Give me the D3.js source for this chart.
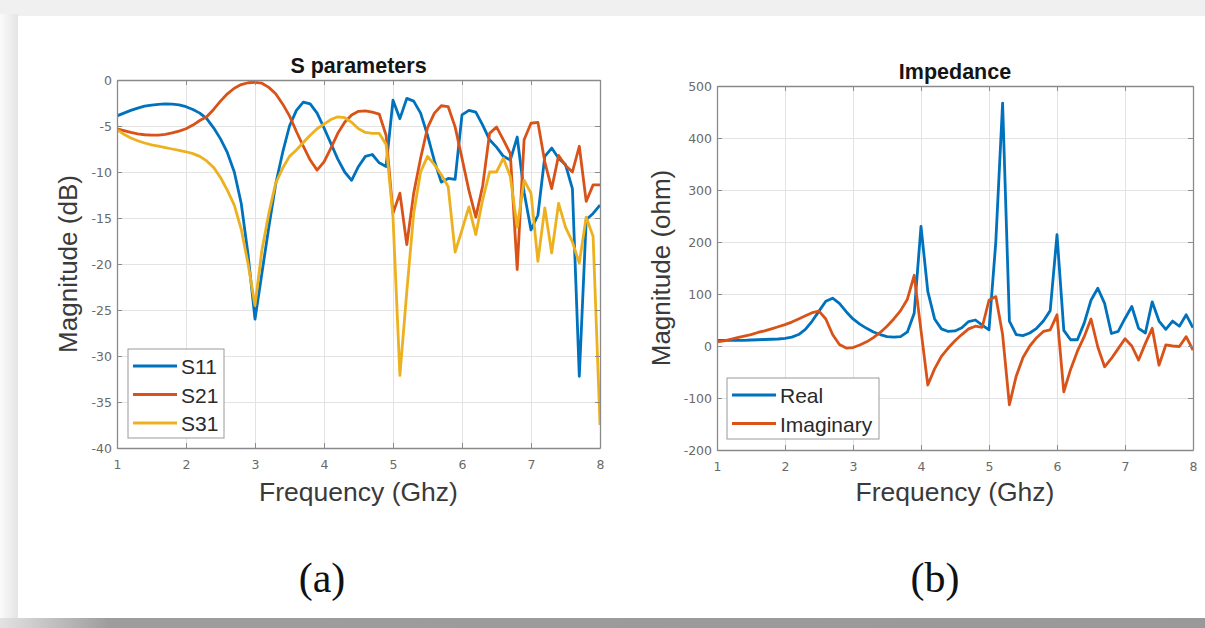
<!DOCTYPE html>
<html>
<head>
<meta charset="utf-8">
<script src="https://cdn.jsdelivr.net/npm/d3@7"></script>
<style>
  body { margin: 0; background: #fff; }
  svg { display: block; }
  text { font-family: "Liberation Sans", Arial, sans-serif; }
  .ticklab text { font-family: "DejaVu Sans", sans-serif; font-size: 12.5px; fill: #6a6a6a; }
</style>
</head>
<body>
<svg id="chart" width="1205" height="628"></svg>
<script>
// frequency grid (GHz) shared by every curve
const freq = [1.0, 1.1, 1.2, 1.3, 1.4, 1.5, 1.6, 1.7, 1.8, 1.9,
  2.0, 2.1, 2.2, 2.3, 2.4, 2.5, 2.6, 2.7, 2.8, 2.9,
  3.0, 3.1, 3.2, 3.3, 3.4, 3.5, 3.6, 3.7, 3.8, 3.9,
  4.0, 4.1, 4.2, 4.3, 4.4, 4.5, 4.6, 4.7, 4.8, 4.9,
  5.0, 5.1, 5.2, 5.3, 5.4, 5.5, 5.6, 5.7, 5.8, 5.9,
  6.0, 6.1, 6.2, 6.3, 6.4, 6.5, 6.6, 6.7, 6.8, 6.9,
  7.0, 7.1, 7.2, 7.3, 7.4, 7.5, 7.6, 7.7, 7.8, 7.9, 8.0]

// S parameters (dB)
const s11 = [-3.9, -3.6, -3.3, -3.05, -2.85, -2.72, -2.65, -2.6, -2.62, -2.7,
  -2.9, -3.2, -3.6, -4.2, -5.2, -6.4, -7.9, -10.0, -13.4, -19.0,
  -26.0, -21.0, -16.0, -11.3, -7.9, -5.0, -3.3, -2.4, -2.6, -3.6,
  -5.2, -6.9, -8.6, -10.0, -10.9, -9.4, -8.3, -8.1, -9.0, -9.4,
  -2.2, -4.2, -2.0, -2.3, -3.6, -6.0, -8.8, -11.1, -10.7, -10.8,
  -3.8, -3.3, -3.5, -4.9, -6.5, -7.3, -8.3, -8.7, -6.2, -12.2,
  -16.3, -14.7, -8.3, -7.4, -8.5, -9.2, -11.8, -32.2, -15.2, -14.5, -13.6]
const s21 = [-5.3, -5.5, -5.7, -5.85, -5.95, -6.0, -6.0, -5.9, -5.75, -5.55,
  -5.3, -4.9, -4.4, -4.0, -3.2, -2.3, -1.5, -0.9, -0.5, -0.3,
  -0.25, -0.35, -0.8, -1.5, -2.6, -3.9, -5.6, -7.2, -8.7, -9.8,
  -8.9, -7.4, -5.8, -4.6, -3.8, -3.4, -3.35, -3.5, -3.7, -6.0,
  -14.5, -12.3, -17.9, -12.3, -8.5, -5.2, -3.6, -2.8, -2.9, -5.1,
  -8.5, -12.0, -14.9, -11.5, -5.8, -5.1, -6.5, -8.0, -20.6, -6.5,
  -4.7, -4.6, -8.9, -11.8, -8.2, -9.3, -10.0, -7.2, -13.2, -11.4, -11.4]
const s31 = [-5.4, -5.9, -6.3, -6.6, -6.85, -7.05, -7.2, -7.35, -7.5, -7.65,
  -7.8, -8.0, -8.3, -8.8, -9.5, -10.6, -12.0, -13.6, -16.2, -20.0,
  -24.5, -18.5, -14.5, -11.2, -9.6, -8.3, -7.6, -6.8, -6.0, -5.3,
  -4.8, -4.3, -4.0, -4.1, -4.6, -5.3, -5.7, -5.8, -5.8, -7.0,
  -14.9, -32.1, -23.0, -14.5, -10.0, -8.3, -9.2, -10.3, -11.6, -18.7,
  -16.3, -13.8, -16.8, -13.0, -10.0, -10.0, -8.5, -10.5, -16.0, -10.9,
  -12.3, -19.7, -13.9, -18.8, -13.4, -16.0, -17.6, -19.9, -14.9, -17.0, -37.5]

// impedance (ohm)
const zReal = [11, 11, 11, 11, 11, 11.5, 12, 12.5, 13, 13.5,
  14.5, 17, 22, 32, 48, 67, 86, 92, 82, 66,
  52, 42, 34, 27, 22, 18, 17, 18, 27, 63,
  230, 105, 52, 33, 28, 29, 35, 47, 50, 40,
  31, 200, 467, 48, 22, 20, 25, 34, 48, 68,
  214, 30, 12, 12, 44, 88, 111, 82, 24, 28,
  53, 76, 34, 25, 85, 48, 32, 48, 38, 60, 35]
const zImag = [8, 10, 13, 16, 19, 22, 26, 29, 33, 37,
  41, 46, 52, 58, 64, 67, 52, 22, 3, -4,
  -3, 2, 8, 16, 26, 38, 52, 68, 90, 136,
  30, -75, -44, -20, -4, 10, 22, 33, 38, 36,
  88, 95, 22, -113, -58, -22, 0, 16, 28, 31,
  60, -88, -45, -10, 18, 52, -2, -40, -24, -5,
  14, 0, -27, 5, 34, -37, 2, 0, -1, 18, -8]

const xTicks = [1, 2, 3, 4, 5, 6, 7, 8]
const sTicks = [0, -5, -10, -15, -20, -25, -30, -35, -40]
const zTicks = [500, 400, 300, 200, 100, 0, -100, -200]

const blue = '#0072bd'
const red = '#d95319'
const gold = '#edb120'

const svg = d3.select('#chart')

// page: grey edges, white card, dark strip at the bottom
const defs = svg.append('defs')
let lg = defs.append('linearGradient').attr('id', 'leftEdge')
lg.append('stop').attr('offset', '0%').attr('stop-color', '#fbfbfb')
lg.append('stop').attr('offset', '100%').attr('stop-color', '#e4e4e4')
let bg = defs.append('linearGradient').attr('id', 'bottomEdge')
bg.append('stop').attr('offset', '0%').attr('stop-color', '#e2e2e2')
bg.append('stop').attr('offset', '9%').attr('stop-color', '#9d9d9d')
bg.append('stop').attr('offset', '100%').attr('stop-color', '#999')

svg.append('rect').attr('width', 1205).attr('height', 628).attr('fill', '#f0f0f0')
svg.append('rect').attr('x', 0).attr('y', 14).attr('width', 18).attr('height', 604).attr('fill', 'url(#leftEdge)')
svg.append('rect').attr('x', 18).attr('y', 16).attr('width', 1187).attr('height', 602).attr('fill', '#fff')
svg.append('rect').attr('x', 0).attr('y', 618).attr('width', 1205).attr('height', 10).attr('fill', 'url(#bottomEdge)')

function panel(opt) {
  const x = d3.scaleLinear().domain([1, 8]).range([opt.left, opt.right])
  const y = d3.scaleLinear().domain(opt.yDomain).range([opt.bottom, opt.top])
  const w = opt.right - opt.left
  const h = opt.bottom - opt.top
  const g = svg.append('g')

  g.append('rect')
    .attr('x', opt.left).attr('y', opt.top)
    .attr('width', w).attr('height', h)
    .attr('fill', '#fff')

  // grid
  g.append('g')
    .attr('transform', `translate(0,${opt.bottom})`)
    .call(d3.axisBottom(x).tickValues(xTicks).tickSize(-h).tickFormat(''))
    .call(s => s.select('.domain').remove())
    .call(s => s.selectAll('line').attr('stroke', '#e3e3e3'))
  g.append('g')
    .attr('transform', `translate(${opt.left},0)`)
    .call(d3.axisLeft(y).tickValues(opt.yTicks).tickSize(-w).tickFormat(''))
    .call(s => s.select('.domain').remove())
    .call(s => s.selectAll('line').attr('stroke', '#e3e3e3'))

  // curves
  const clipId = 'clip' + opt.id
  defs.append('clipPath').attr('id', clipId)
    .append('rect').attr('x', opt.left).attr('y', opt.top - 2).attr('width', w).attr('height', h + 4)
  const line = d3.line()
    .x((d, i) => x(freq[i]))
    .y(d => y(d))
  opt.series.forEach(s => {
    g.append('path')
      .datum(s.values)
      .attr('clip-path', `url(#${clipId})`)
      .attr('d', line)
      .attr('fill', 'none')
      .attr('stroke', s.color)
      .attr('stroke-width', 2.8)
      .attr('stroke-linejoin', 'round')
  })

  // box with inward ticks on all four sides
  const boxStyle = s => {
    s.select('.domain').attr('stroke', '#8a8a8a').attr('stroke-width', 1.3)
    s.selectAll('.tick line').attr('stroke', '#8a8a8a')
  }
  g.append('g').attr('transform', `translate(0,${opt.bottom})`)
    .call(d3.axisBottom(x).tickValues(xTicks).tickSize(-5).tickSizeOuter(0).tickFormat('')).call(boxStyle)
  g.append('g').attr('transform', `translate(0,${opt.top})`)
    .call(d3.axisTop(x).tickValues(xTicks).tickSize(-5).tickSizeOuter(0).tickFormat('')).call(boxStyle)
  g.append('g').attr('transform', `translate(${opt.left},0)`)
    .call(d3.axisLeft(y).tickValues(opt.yTicks).tickSize(-5).tickSizeOuter(0).tickFormat('')).call(boxStyle)
  g.append('g').attr('transform', `translate(${opt.right},0)`)
    .call(d3.axisRight(y).tickValues(opt.yTicks).tickSize(-5).tickSizeOuter(0).tickFormat('')).call(boxStyle)

  // tick labels
  g.append('g').attr('class', 'ticklab')
    .attr('transform', `translate(0,${opt.bottom})`)
    .call(d3.axisBottom(x).tickValues(xTicks).tickSize(0).tickPadding(12).tickFormat(d => String(d)))
    .call(s => s.select('.domain').remove())
  g.append('g').attr('class', 'ticklab')
    .attr('transform', `translate(${opt.left},0)`)
    .call(d3.axisLeft(y).tickValues(opt.yTicks).tickSize(0).tickPadding(5).tickFormat(d => String(d)))
    .call(s => s.select('.domain').remove())
  g.selectAll('.ticklab text').attr('font-family', null).attr('font-size', null).attr('fill', null)

  const cx = (opt.left + opt.right) / 2
  g.append('text')
    .attr('x', cx).attr('y', opt.titleY)
    .attr('text-anchor', 'middle')
    .style('font-size', '21.5px').style('font-weight', 'bold').style('fill', '#151515')
    .text(opt.title)
  g.append('text')
    .attr('x', cx).attr('y', 501)
    .attr('text-anchor', 'middle')
    .style('font-size', '26.5px').style('fill', '#3a3a3a')
    .text('Frequency (Ghz)')
  g.append('text')
    .attr('transform', `translate(${opt.yLabelX},${(opt.top + opt.bottom) / 2}) rotate(-90)`)
    .attr('text-anchor', 'middle')
    .style('font-size', '26px').style('fill', '#3a3a3a')
    .text(opt.yLabel)

  // legend
  const L = opt.legend
  const lg = g.append('g')
  lg.append('rect')
    .attr('x', L.x).attr('y', L.y).attr('width', L.w).attr('height', L.h)
    .attr('fill', '#fff').attr('stroke', '#9a9a9a').attr('stroke-width', 1)
  opt.series.forEach((s, i) => {
    const ly = L.y + L.first + i * L.step
    lg.append('line')
      .attr('x1', L.x + 5).attr('x2', L.x + 49)
      .attr('y1', ly).attr('y2', ly)
      .attr('stroke', s.color).attr('stroke-width', 2.8)
    lg.append('text')
      .attr('x', L.x + 53).attr('y', ly + 8)
      .style('font-size', '21px').style('fill', '#2a2a2a')
      .text(s.name)
  })
}

panel({
  id: 'a', left: 117, right: 600, top: 80, bottom: 448,
  yDomain: [-40, 0], yTicks: sTicks,
  title: 'S parameters', titleY: 73, yLabel: 'Magnitude (dB)', yLabelX: 77,
  series: [
    { name: 'S11', values: s11, color: blue },
    { name: 'S21', values: s21, color: red },
    { name: 'S31', values: s31, color: gold }
  ],
  legend: { x: 128, y: 349, w: 96, h: 89, first: 17, step: 28.5 }
})

panel({
  id: 'b', left: 717, right: 1193, top: 86, bottom: 450,
  yDomain: [-200, 500], yTicks: zTicks,
  title: 'Impedance', titleY: 79, yLabel: 'Magnitude (ohm)', yLabelX: 670,
  series: [
    { name: 'Real', values: zReal, color: blue },
    { name: 'Imaginary', values: zImag, color: red }
  ],
  legend: { x: 727, y: 378, w: 152, h: 61, first: 17, step: 28.5 }
})

// sub-figure captions
svg.append('text').attr('x', 322).attr('y', 592)
  .attr('text-anchor', 'middle')
  .style('font-family', '"Liberation Serif", "Times New Roman", serif')
  .style('font-size', '42px').style('fill', '#111')
  .text('(a)')
svg.append('text').attr('x', 935).attr('y', 592)
  .attr('text-anchor', 'middle')
  .style('font-family', '"Liberation Serif", "Times New Roman", serif')
  .style('font-size', '42px').style('fill', '#111')
  .text('(b)')
</script>
</body>
</html>
